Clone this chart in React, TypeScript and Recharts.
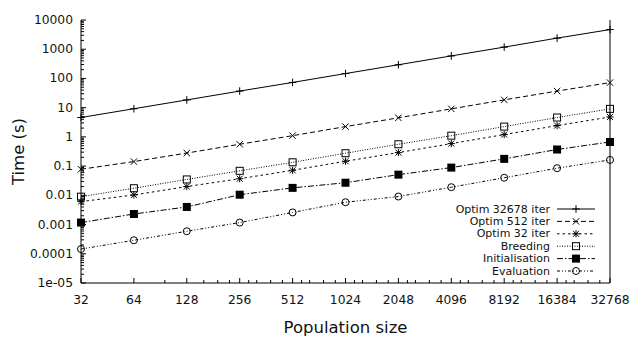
import { LineChart, Line, XAxis, YAxis, Legend, Label } from "recharts";

// population sizes on the x axis (log2 spaced)
const populations = [32, 64, 128, 256, 512, 1024, 2048, 4096, 8192, 16384, 32768];

// time in seconds
const optim32678 = [4.6, 9.2, 18.4, 37, 73, 147, 294, 590, 1180, 2400, 4700];
const optim512 = [0.078, 0.143, 0.28, 0.56, 1.1, 2.25, 4.5, 9.1, 18.5, 37, 72];
const optim32 = [0.0061, 0.0103, 0.02, 0.037, 0.072, 0.147, 0.29, 0.59, 1.2, 2.44, 4.8];
const breeding = [0.009, 0.0175, 0.035, 0.069, 0.135, 0.276, 0.56, 1.1, 2.25, 4.6, 9.1];
const initialisation = [0.00117, 0.0023, 0.004, 0.0105, 0.018, 0.027, 0.051, 0.089, 0.177, 0.37, 0.67];
const evaluation = [0.000145, 0.00029, 0.00059, 0.00117, 0.0026, 0.0058, 0.0091, 0.019, 0.04, 0.085, 0.163];

const yTickLabels = ["1e-05", "0.0001", "0.001", "0.01", "0.1", "1", "10", "100", "1000", "10000"];
const yMajorTicks = [1e-5, 1e-4, 1e-3, 1e-2, 0.1, 1, 10, 100, 1000, 10000];
const yMinorFactors = [2, 3, 4, 5, 6, 7, 8, 9];
// minor ticks inside each octave, as fractions of the octave start
const xMinorRatios = [1.125, 1.25, 1.5, 1.75];

const series = [
  { key: "optim32678", name: "Optim 32678 iter", dash: undefined, marker: "plus", values: optim32678 },
  { key: "optim512", name: "Optim 512 iter", dash: "5 3", marker: "cross", values: optim512 },
  { key: "optim32", name: "Optim 32 iter", dash: "2.5 3", marker: "star", values: optim32 },
  { key: "breeding", name: "Breeding", dash: "1 1.5", marker: "square", values: breeding },
  { key: "initialisation", name: "Initialisation", dash: "6 2 1.5 2", marker: "filled", values: initialisation },
  { key: "evaluation", name: "Evaluation", dash: "3 2 1 2 1 2", marker: "circle", values: evaluation },
];

const rows = populations.map((p, i) => {
  const row: Record<string, number> = { x: Math.log2(p) };
  series.forEach((s) => (row[s.key] = s.values[i]));
  return row;
});

const xMajor = populations.map((p) => Math.log2(p));
const xMinor: number[] = [];
populations.slice(0, -1).forEach((p) => {
  xMinorRatios.forEach((r) => {
    if (p === 32) return;
    if (p === 64 && r !== 1.5) return;
    if (p === 128 && r === 1.125) return;
    xMinor.push(Math.log2(p * r));
  });
});
const xTicks = [...xMajor, ...xMinor];

const yMinor: number[] = [];
yMajorTicks.slice(0, -1).forEach((d) => yMinorFactors.forEach((k) => yMinor.push(d * k)));
const yTicks = [...yMajorTicks, ...yMinor];

const FONT = "DejaVu Sans, sans-serif";

function XTick(props: any) {
  const { x, y, payload, side } = props;
  const v = payload.value;
  const major = Math.abs(v - Math.round(v)) < 1e-9;
  const len = major ? 5 : 3;
  const dir = side === "bottom" ? -1 : 1;
  const idx = Math.round(v) - 5;
  return (
    <g>
      <line x1={x} x2={x} y1={y} y2={y + dir * len} stroke="#000" strokeWidth={1} />
      {major && side === "bottom" && (
        <text x={x} y={y + 17} textAnchor="middle" dominantBaseline="central" fontFamily={FONT} fontSize={12.3} fill="#111">
          {populations[idx]}
        </text>
      )}
    </g>
  );
}

function YTick(props: any) {
  const { x, y, payload, side } = props;
  const lg = Math.log10(payload.value);
  const major = Math.abs(lg - Math.round(lg)) < 1e-6;
  const len = major ? 5 : 3;
  const dir = side === "left" ? 1 : -1;
  return (
    <g>
      <line x1={x} x2={x + dir * len} y1={y} y2={y} stroke="#000" strokeWidth={1} />
      {major && side === "left" && (
        <text x={x - 8} y={y} textAnchor="end" dominantBaseline="central" fontFamily={FONT} fontSize={12.3} fill="#111">
          {yTickLabels[Math.round(lg) + 5]}
        </text>
      )}
    </g>
  );
}

function Marker({ cx, cy, shape }: { cx: number; cy: number; shape: string }) {
  const s = 3.8;
  if (shape === "plus")
    return (
      <g stroke="#000" strokeWidth={1}>
        <line x1={cx - s} x2={cx + s} y1={cy} y2={cy} />
        <line x1={cx} x2={cx} y1={cy - s} y2={cy + s} />
      </g>
    );
  if (shape === "cross")
    return (
      <g stroke="#000" strokeWidth={1}>
        <line x1={cx - 3.2} x2={cx + 3.2} y1={cy - 3.2} y2={cy + 3.2} />
        <line x1={cx - 3.2} x2={cx + 3.2} y1={cy + 3.2} y2={cy - 3.2} />
      </g>
    );
  if (shape === "star")
    return (
      <g stroke="#000" strokeWidth={1}>
        <line x1={cx - 3} x2={cx + 3} y1={cy - 3} y2={cy + 3} />
        <line x1={cx - 3} x2={cx + 3} y1={cy + 3} y2={cy - 3} />
        <line x1={cx - 3.6} x2={cx + 3.6} y1={cy} y2={cy} />
        <line x1={cx} x2={cx} y1={cy - 3.6} y2={cy + 3.6} />
      </g>
    );
  if (shape === "square")
    return <rect x={cx - 3.5} y={cy - 3.5} width={7} height={7} fill="none" stroke="#000" strokeWidth={1} />;
  if (shape === "filled") return <rect x={cx - 4} y={cy - 4} width={8} height={8} fill="#000" />;
  return <circle cx={cx} cy={cy} r={3.5} fill="none" stroke="#000" strokeWidth={1} />;
}

function LegendBox() {
  return (
    <svg width={200} height={80} style={{ display: "block" }}>
      {series.map((s, i) => {
        const y = 8 + i * 12.4;
        return (
          <g key={s.key}>
            <text x={140} y={y} textAnchor="end" dominantBaseline="central" fontFamily={FONT} fontSize={11} fill="#111">
              {s.name}
            </text>
            <line x1={147} x2={185} y1={y} y2={y} stroke="#000" strokeWidth={1} strokeDasharray={s.dash} />
            <Marker cx={166} cy={y} shape={s.marker} />
          </g>
        );
      })}
    </svg>
  );
}

export default function App() {
  return (
    <div style={{ position: "absolute", left: 0, top: 0 }}>
      <LineChart width={633} height={342} data={rows} margin={{ top: 20, right: 0, bottom: 0, left: 0 }}>
        <XAxis
          dataKey="x"
          type="number"
          domain={[5, 15]}
          ticks={xTicks}
          interval={0}
          height={59}
          tickSize={0}
          tickMargin={0}
          tickLine={false}
          axisLine={{ stroke: "#000" }}
          tick={<XTick side="bottom" />}
        >
          <Label
            content={({ viewBox }: any) => (
              <text
                x={viewBox.x + viewBox.width / 2}
                y={viewBox.y + 44}
                textAnchor="middle"
                dominantBaseline="central"
                fontFamily={FONT}
                fontSize={16.5}
                fill="#111"
              >
                Population size
              </text>
            )}
          />
        </XAxis>
        <XAxis
          xAxisId="top"
          orientation="top"
          dataKey="x"
          type="number"
          domain={[5, 15]}
          ticks={xTicks}
          interval={0}
          height={0}
          tickSize={0}
          tickMargin={0}
          tickLine={false}
          axisLine={{ stroke: "#000" }}
          tick={<XTick side="top" />}
        />
        <YAxis
          type="number"
          scale="log"
          domain={[1e-5, 10000]}
          ticks={yTicks}
          interval={0}
          width={81}
          tickSize={0}
          tickMargin={0}
          tickLine={false}
          axisLine={{ stroke: "#000" }}
          tick={<YTick side="left" />}
        >
          <Label
            content={({ viewBox }: any) => {
              const cx = 18;
              const cy = viewBox.y + viewBox.height / 2;
              return (
                <text
                  x={cx}
                  y={cy}
                  transform={`rotate(-90 ${cx} ${cy})`}
                  textAnchor="middle"
                  dominantBaseline="central"
                  fontFamily={FONT}
                  fontSize={16.5}
                  fill="#111"
                >
                  Time (s)
                </text>
              );
            }}
          />
        </YAxis>
        <YAxis
          yAxisId="right"
          orientation="right"
          type="number"
          scale="log"
          domain={[1e-5, 10000]}
          ticks={yTicks}
          interval={0}
          width={23}
          tickSize={0}
          tickMargin={0}
          tickLine={false}
          axisLine={{ stroke: "#000" }}
          tick={<YTick side="right" />}
        />
        <Legend
          layout="vertical"
          verticalAlign="middle"
          align="center"
          wrapperStyle={{ left: 410, top: 201, width: 200, height: 80 }}
          content={() => <LegendBox />}
        />
        {series.map((s) => (
          <Line
            key={s.key}
            dataKey={s.key}
            name={s.name}
            stroke="#000"
            strokeWidth={1}
            strokeDasharray={s.dash}
            dot={(p: any) => <Marker key={`${s.key}-${p.index}`} cx={p.cx} cy={p.cy} shape={s.marker} />}
            activeDot={false}
            isAnimationActive={false}
          />
        ))}
      </LineChart>
    </div>
  );
}
